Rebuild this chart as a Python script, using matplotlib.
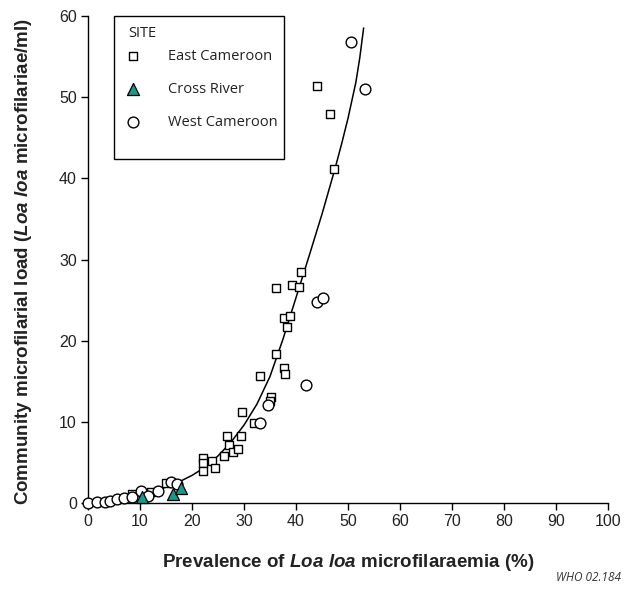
import matplotlib
matplotlib.use("Agg")
import matplotlib.pyplot as plt
from matplotlib.patches import Rectangle

# East Cameroon villages (prevalence %, CMFL)
east_x = [8.4, 12.2, 15.0, 22.2, 22.2, 22.2, 23.9, 24.5, 26.2, 26.8, 27.1, 27.8, 28.8,
          29.5, 29.7, 32.0, 33.1, 35.1, 34.9, 36.1, 37.7, 37.9, 37.6, 38.2, 38.8,
          36.1, 39.2, 40.5, 40.9, 47.4, 46.5, 44.0]
east_y = [1.1, 1.4, 2.4, 5.6, 4.9, 3.9, 5.2, 4.35, 5.8, 8.3, 7.1, 6.3, 6.7,
          8.3, 11.2, 9.85, 15.6, 13.0, 12.6, 18.4, 16.6, 15.85, 22.8, 21.7, 23.1,
          26.5, 26.8, 26.6, 28.4, 41.2, 47.9, 51.4]

# Cross River
cross_x = [10.3, 16.4, 17.9]
cross_y = [0.7, 1.07, 1.8]

# West Cameroon
west_x = [0.0, 1.8, 3.3, 4.2, 5.6, 7.0, 8.4, 10.2, 11.5, 13.5, 16.0, 17.2,
          33.1, 34.7, 42.0, 44.0, 45.1, 50.6, 53.2]
west_y = [0.0, 0.1, 0.16, 0.25, 0.45, 0.57, 0.75, 1.48, 0.86, 1.5, 2.6, 2.3,
          9.85, 12.1, 14.5, 24.8, 25.3, 56.8, 51.0]

# fitted curve
curve_x = [0, 2.5, 5, 7.5, 10, 12.5, 15, 17.5, 20, 22.5, 25, 27.5, 30, 32.5, 35,
           37.5, 40, 42.5, 45, 47.5, 48.75, 50, 51.5, 52.25, 53]
curve_y = [0, 0.15, 0.35, 0.6, 0.95, 1.4, 1.95, 2.6, 3.4, 4.4, 5.8, 7.5, 9.6, 12.2,
           15.6, 20.2, 25.3, 30.4, 35.6, 41.2, 44.2, 47.4, 51.8, 54.8, 58.5]

x_ticks = list(range(0, 101, 10))
y_ticks = list(range(0, 61, 10))

plt.rcParams['font.family'] = ['Liberation Sans', 'DejaVu Sans']
plt.rcParams['mathtext.fontset'] = 'custom'
plt.rcParams['mathtext.it'] = 'Liberation Sans:italic:bold'
plt.rcParams['mathtext.rm'] = 'Liberation Sans:bold'

fig = plt.figure(figsize=(6.27, 5.98), dpi=100)
ax = fig.add_axes([0.1404, 0.1589, 0.8293, 0.8143])

ax.plot(curve_x, curve_y, color='black', lw=1.1, zorder=2)
ax.scatter(east_x, east_y, marker='s', s=26, facecolor='white', edgecolor='black',
           linewidth=1.0, zorder=3, clip_on=False, label='East Cameroon')
ax.scatter(cross_x, cross_y, marker='^', s=75, facecolor='#179a8b', edgecolor='black',
           linewidth=0.9, zorder=4, clip_on=False, label='Cross River')
ax.scatter(west_x, west_y, marker='o', s=60, facecolor='white', edgecolor='black',
           linewidth=1.0, zorder=3, clip_on=False, label='West Cameroon')

ax.set_xlim(0, 100)
ax.set_ylim(0, 60)
ax.set_xticks(x_ticks)
ax.set_yticks(y_ticks)
ax.spines['top'].set_visible(False)
ax.spines['right'].set_visible(False)
for s in ['left', 'bottom']:
    ax.spines[s].set_linewidth(1.0)
ax.tick_params(direction='out', length=5, width=1.0, labelsize=11.5, colors='black', pad=3)
for lab in ax.get_xticklabels() + ax.get_yticklabels():
    lab.set_color('#222222')

ax.set_xlabel(r'Prevalence of $Loa\ loa$ microfilaraemia (%)', fontsize=13.5,
              fontweight='bold', color='#222222')
ax.xaxis.set_label_coords(0.5, -0.1)
ax.set_ylabel(r'Community microfilarial load ($Loa\ loa$ microfilariae/ml)', fontsize=13.5,
              fontweight='bold', color='#222222')
ax.yaxis.set_label_coords(-0.104, 0.495)

# legend box
ax.add_patch(Rectangle((0.05, 0.706), 0.327, 0.294, transform=ax.transAxes,
                       facecolor='white', edgecolor='black', lw=1.0, zorder=5,
                       clip_on=False))
ax.text(0.0769, 0.965, 'SITE', transform=ax.transAxes, ha='left', va='center',
        family='Open Sans', fontsize=10.5, color='#222222', zorder=6)
leg = ax.legend(loc='upper left', bbox_to_anchor=(0.0769, 0.932), frameon=False,
                handlelength=0.7, handletextpad=2.04, labelspacing=1.22,
                borderpad=0, borderaxespad=0,
                prop={'family': 'Open Sans', 'size': 10.5})
for t in leg.get_texts():
    t.set_color('#222222')
leg.set_zorder(6)

fig.text(0.99, 0.035, 'WHO 02.184', ha='right', va='center', style='italic',
         fontsize=8.5, family='Open Sans', color='#333333')

fig.savefig('out.png', dpi=100)
